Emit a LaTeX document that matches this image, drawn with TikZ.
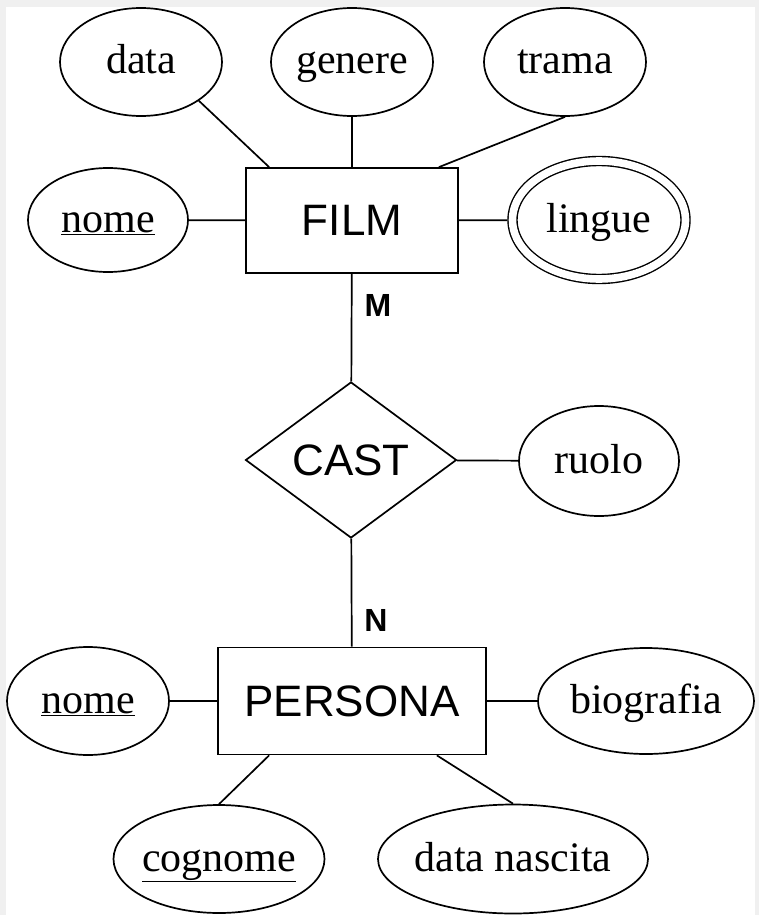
\documentclass[tikz,border=0pt]{standalone}
\usepackage{fontspec}
\setmainfont{Liberation Serif}
\setsansfont{Liberation Sans}
\usetikzlibrary{shapes.geometric}

\begin{document}
\begin{tikzpicture}[x=1pt, y=-1pt, line width=1.7pt,
    attr/.style={ellipse, draw, inner sep=0pt, minimum width=162pt, minimum height=108pt,
        font=\fontsize{42}{48}\selectfont, text height=32pt, text depth=8pt,
        execute at begin node=\hbox to 0pt\bgroup\hss, execute at end node=\hss\egroup},
    entity/.style={rectangle, draw, inner sep=0pt, font=\sffamily\fontsize{44}{50}\selectfont},
    card/.style={font=\sffamily\bfseries\fontsize{32}{36}\selectfont}]
    \useasboundingbox (0, 0) rectangle (759, 915);
    \fill[gray!12] (0, 0) rectangle (759, 915);
    \fill[white] (6, 7) rectangle (755, 915);

    \node (film) [entity, minimum width=212pt, minimum height=105pt] at (352, 220.5) {FILM};
    \node (data) [attr] at (141, 62) {data};
    \node (genere) [attr] at (352, 62) {genere};
    \node (trama) [attr] at (565, 62) {trama};
    \node (nome) [attr, minimum width=160pt, minimum height=104pt] at (108, 220) {\underline{nome}};
    \node (lingue) [attr, minimum width=173pt, minimum height=118pt, line width=1.4pt,
        double, double distance=7.6pt, outer sep=5.2pt] at (599, 220) {lingue};

    \node (cast) [diamond, draw, inner sep=0pt, minimum width=211pt, minimum height=156pt,
        font=\sffamily\fontsize{44}{50}\selectfont] at (351, 460) {CAST};
    \node (ruolo) [attr, minimum width=160pt, minimum height=110pt] at (599, 461) {ruolo};
    \node (m) [card] at (378, 305) {M};
    \node (n) [card] at (376, 620) {N};

    \node (persona) [entity, minimum width=268pt, minimum height=107pt] at (352, 701) {PERSONA};
    \node (nome2) [attr] at (88, 701) {\underline{nome}};
    \node (biografia) [attr, minimum width=216pt, minimum height=106pt] at (646, 701) {biografia};
    \node (cognome) [attr, minimum width=211pt] at (219, 859) {\underline{cognome}};
    \node (nascita) [attr, minimum width=270pt, minimum height=109pt] at (513, 859) {data nascita};

    \draw (data.south east) to ([xshift=24pt]film.north west);
    \draw (genere) to (film);
    \draw (trama.south) to ([xshift=-20pt]film.north east);
    \draw (nome) to (film);
    \draw (film) to (lingue);
    \draw (film) to (cast);
    \draw (cast) to (ruolo);
    \draw (cast) to (persona);
    \draw (nome2) to (persona);
    \draw (persona) to (biografia);
    \draw ([xshift=52pt]persona.south west) to (cognome.north);
    \draw ([xshift=-50pt]persona.south east) to (nascita.north);
\end{tikzpicture}
\end{document}
